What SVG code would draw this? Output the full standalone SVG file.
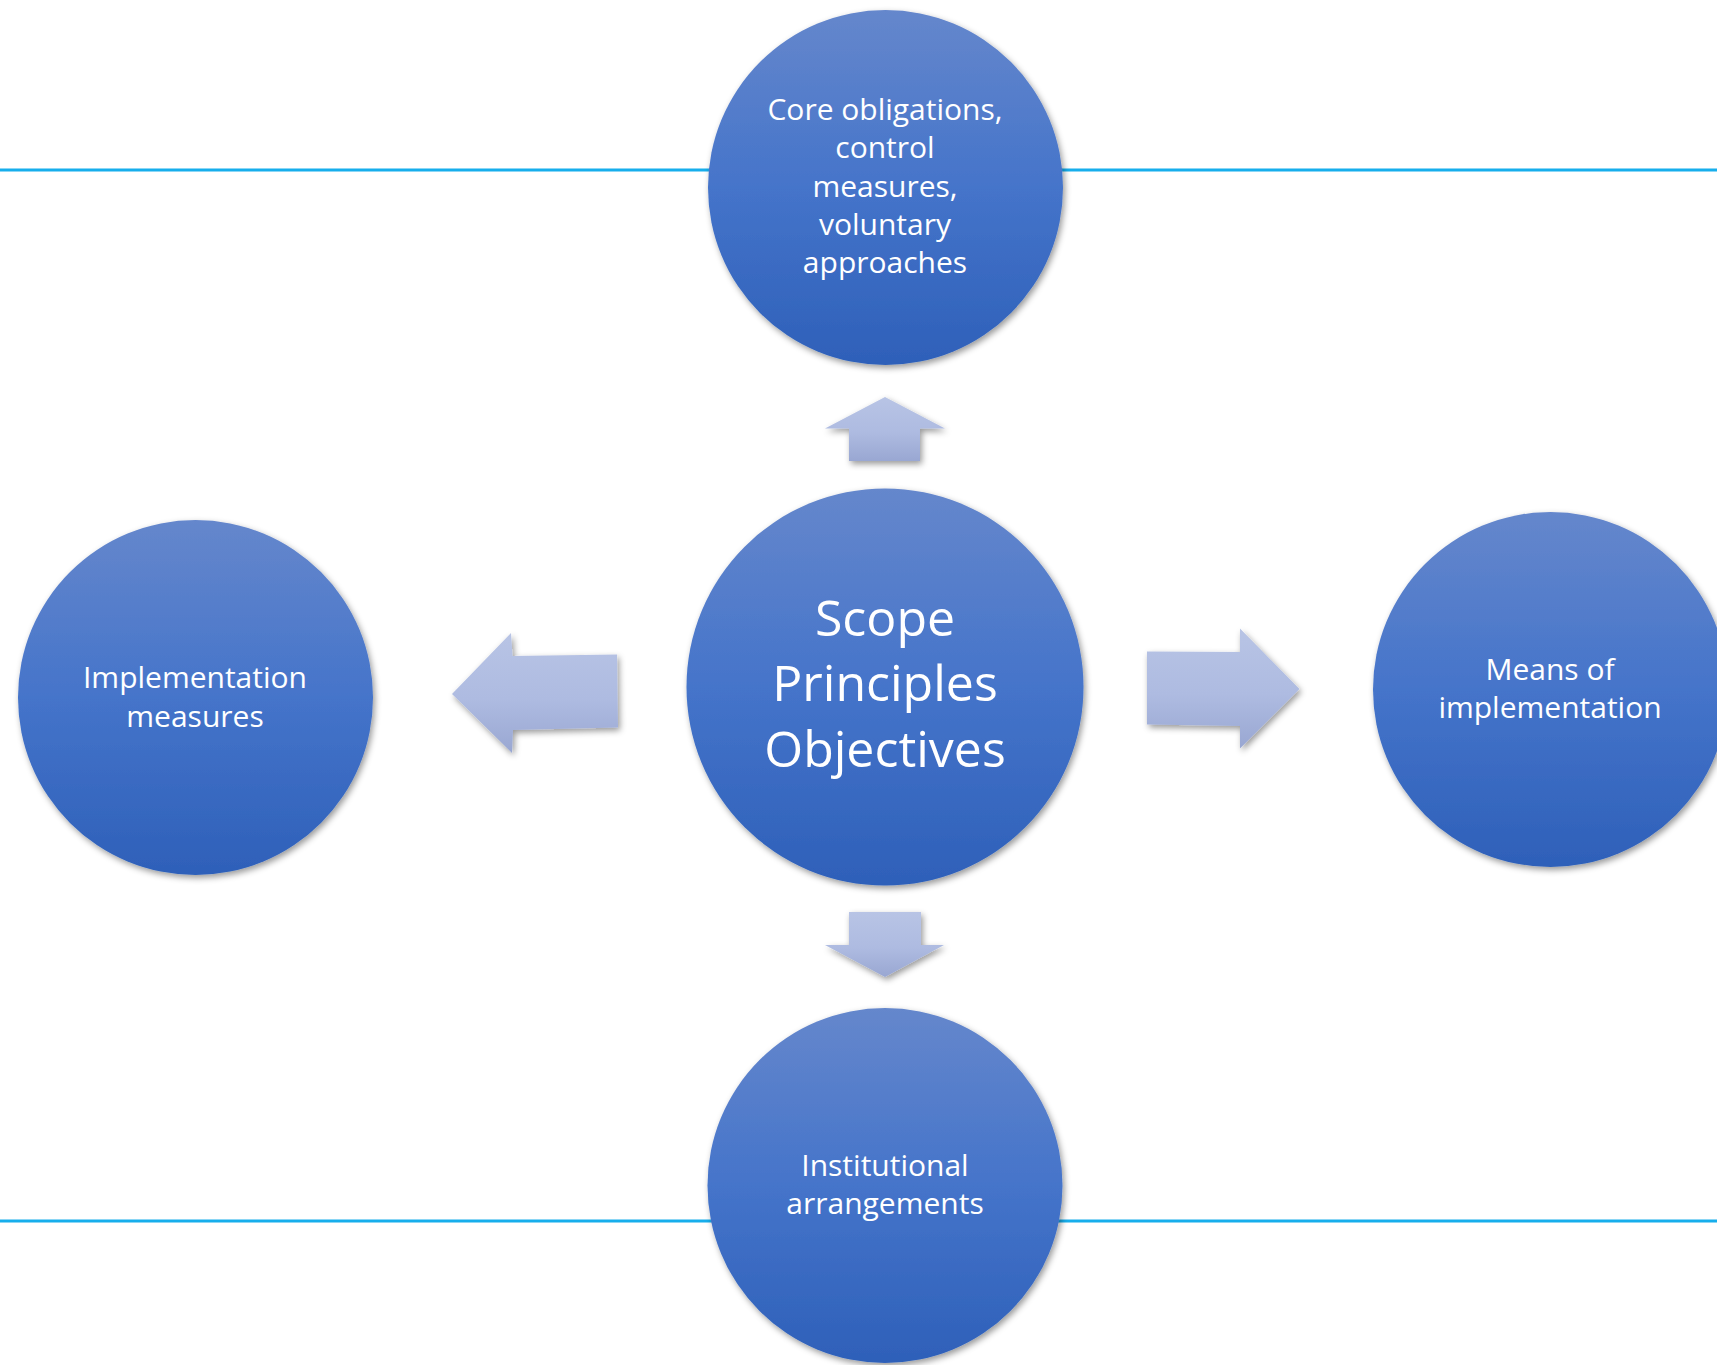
<svg xmlns="http://www.w3.org/2000/svg" width="1717" height="1365" viewBox="0 0 1717 1365">
  <defs>
    <linearGradient id="circGrad" x1="0" y1="0" x2="0" y2="1">
      <stop offset="0" stop-color="#6587CC"/>
      <stop offset="0.5" stop-color="#4574CA"/>
      <stop offset="1" stop-color="#2E60B9"/>
    </linearGradient>
    <linearGradient id="arrowGrad" x1="0" y1="0" x2="0" y2="1">
      <stop offset="0" stop-color="#B8C4E5"/>
      <stop offset="0.55" stop-color="#AEBBE1"/>
      <stop offset="1" stop-color="#99A7D2"/>
    </linearGradient>
    <filter id="shadow" x="-10%" y="-10%" width="125%" height="125%">
      <feDropShadow dx="2" dy="3" stdDeviation="3" flood-color="#000" flood-opacity="0.4"/>
    </filter>
  </defs>
  <style>
    .circle { fill: url(#circGrad); filter: url(#shadow); }
    .arrow { fill: url(#arrowGrad); filter: url(#shadow); }
    .rule { stroke: #17AEEC; stroke-width: 3; fill: none; }
    .label { fill: #FFFFFF; font-family: "Open Sans", "Noto Sans", "Liberation Sans", sans-serif; font-size: 30px; text-anchor: middle; }
    .big { font-size: 50px; }
  </style>
  <rect width="1717" height="1365" fill="#FFFFFF"/>

  <g id="rules">
    <line class="rule" x1="0" y1="170" x2="1717" y2="170"/>
    <line class="rule" x1="0" y1="1221" x2="1717" y2="1221"/>
  </g>

  <g id="connectors">
    <polygon class="arrow" points="885,397 945,428.5 920,428.5 920,461 849,461 849,428.5 825,428.5"/>
    <polygon class="arrow" points="849,912 921,912 921,945 944,945 885,977 825,945 849,945"/>
    <polygon class="arrow" points="452,694 511,633 512.5,656 617,654.5 618,727.5 513,730 512,753"/>
    <polygon class="arrow" points="1147,651.5 1240,652 1240,628.5 1299.5,689 1240,748.5 1240,726 1147,724.5"/>
  </g>

  <g id="node-top">
    <circle class="circle" cx="885.5" cy="187.5" r="177.5"/>
    <text class="label" x="885" y="120">Core obligations,</text>
    <text class="label" x="885" y="158">control</text>
    <text class="label" x="885" y="197">measures,</text>
    <text class="label" x="885" y="235">voluntary</text>
    <text class="label" x="885" y="273">approaches</text>
  </g>

  <g id="node-center">
    <circle class="circle" cx="885" cy="687" r="198.5"/>
    <text class="label big" x="885" y="636">Scope</text>
    <text class="label big" x="885" y="701">Principles</text>
    <text class="label big" x="885" y="767">Objectives</text>
  </g>

  <g id="node-left">
    <circle class="circle" cx="195.5" cy="697.5" r="177.5"/>
    <text class="label" x="195" y="688">Implementation</text>
    <text class="label" x="195" y="727">measures</text>
  </g>

  <g id="node-right">
    <circle class="circle" cx="1550.5" cy="689.5" r="177.5"/>
    <text class="label" x="1550" y="680">Means of</text>
    <text class="label" x="1550" y="718">implementation</text>
  </g>

  <g id="node-bottom">
    <circle class="circle" cx="885" cy="1185.5" r="177.5"/>
    <text class="label" x="885" y="1176">Institutional</text>
    <text class="label" x="885" y="1214">arrangements</text>
  </g>
</svg>
